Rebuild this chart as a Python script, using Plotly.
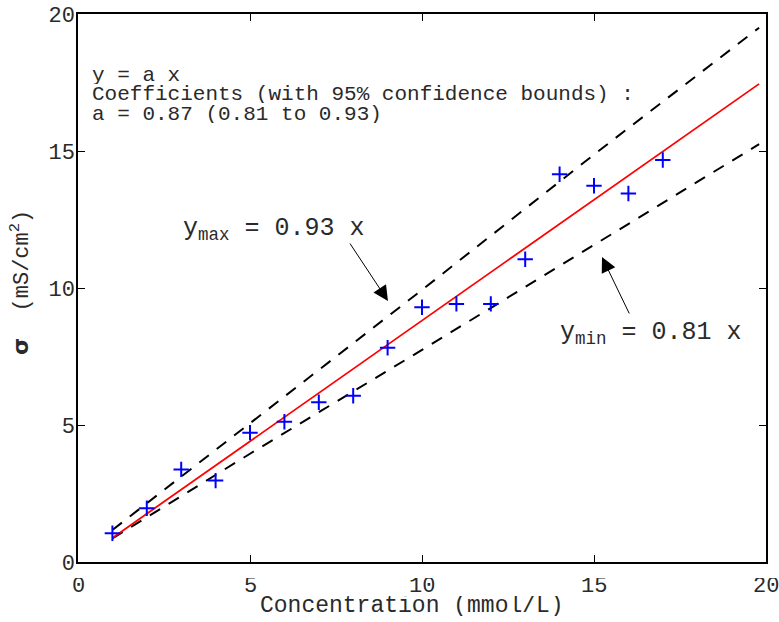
import plotly.graph_objects as go

# ---- data ----
conc = [1, 2, 3, 4, 5, 6, 7, 8, 9, 10, 11, 12, 13, 14, 15, 16, 17]
sigma = [1.05, 1.96, 3.38, 2.97, 4.72, 5.12, 5.83, 6.07, 7.82, 9.30,
         9.42, 9.42, 11.05, 14.15, 13.73, 13.45, 14.67]

fit_x = [1, 19.8]
fit_y = [0.88, 17.45]

bound_x = [1, 5, 10, 15, 19.8]
upper_y = [1.17, 5.05, 9.93, 14.87, 19.5]
lower_y = [0.86, 3.95, 7.74, 11.57, 15.25]

x_ticks = [0, 5, 10, 15, 20]
x_ticklabels = ["0", "5", "10", "15", "20"]
y_ticks = [0, 5, 10, 15, 20]
y_ticklabels = ["0", "5", "10", "15", "20"]

# ---- layout helpers (pixel -> paper) ----
L, R, T, B = 78, 766, 14, 562
W, H = R - L, B - T
def px(x):
    return (x - L) / W
def py(y):
    return (B - y) / H

MONO = "Liberation Mono, Courier New, monospace"
TXT = "#2a2a2a"

fig = go.Figure()
fig.add_trace(go.Scatter(x=bound_x, y=upper_y, mode="lines",
                         line=dict(color="black", width=2, dash="12px,10px"),
                         showlegend=False, hoverinfo="skip"))
fig.add_trace(go.Scatter(x=bound_x, y=lower_y, mode="lines",
                         line=dict(color="black", width=2, dash="12px,10px"),
                         showlegend=False, hoverinfo="skip"))
fig.add_trace(go.Scatter(x=fit_x, y=fit_y, mode="lines",
                         line=dict(color="red", width=1.8),
                         showlegend=False))
fig.add_trace(go.Scatter(x=conc, y=sigma, mode="markers",
                         marker=dict(symbol="cross-thin", size=11,
                                     line=dict(color="blue", width=2)),
                         showlegend=False))

axis_common = dict(showgrid=False, zeroline=False, showline=True,
                   linecolor="black", linewidth=1.5, mirror="ticks",
                   ticks="inside", ticklen=7, tickwidth=1, tickcolor="black",
                   automargin=False, ticklabeloverflow="allow",
                   tickfont=dict(family=MONO, size=22, color=TXT))

# x tick labels are drawn as annotations below (at the x tick values)
fig.update_xaxes(range=[0, 20], tickvals=x_ticks, showticklabels=False,
                 **axis_common)
fig.update_yaxes(range=[0, 20], tickvals=y_ticks, ticktext=y_ticklabels,
                 ticklabelstandoff=-3, **axis_common)

ann = []
# axis titles
ann.append(dict(text="Concentration (mmol/L)", xref="paper", yref="paper",
                x=px(412), y=py(606), xanchor="center", yanchor="middle",
                height=20, showarrow=False, borderpad=0,
                font=dict(family=MONO, size=23, color=TXT)))
ann.append(dict(text="<span style='font-family:DejaVu Sans;font-weight:bold'>σ</span>  (mS/cm<sup>2</sup>)",
                xref="paper", yref="paper", x=px(20), y=py(283),
                xanchor="center", yanchor="middle", textangle=-90,
                showarrow=False, font=dict(family=MONO, size=22, color=TXT)))
for v, lab in zip(x_ticks, x_ticklabels):
    ann.append(dict(text=lab, xref="x", yref="paper", x=v, y=py(586),
                    xanchor="center", yanchor="middle", height=17,
                    showarrow=False, borderpad=0,
                    font=dict(family=MONO, size=22, color=TXT)))
# fit description text
for txt, yc in [("y = a x", 75),
                ("Coefficients (with 95% confidence bounds) :", 94.5),
                ("a = 0.87 (0.81 to 0.93)", 114)]:
    ann.append(dict(text=txt, xref="paper", yref="paper", x=px(91), y=py(yc),
                    xanchor="left", yanchor="middle", height=18, borderpad=0,
                    showarrow=False,
                    font=dict(family=MONO, size=21, color=TXT)))
# bound labels
ann.append(dict(text="y<sub>max</sub> = 0.93 x", xref="paper", yref="paper",
                x=px(181), y=py(230), xanchor="left", yanchor="middle",
                showarrow=False, font=dict(family=MONO, size=25, color=TXT)))
ann.append(dict(text="y<sub>min</sub> = 0.81 x", xref="paper", yref="paper",
                x=px(558), y=py(333), xanchor="left", yanchor="middle",
                showarrow=False, font=dict(family=MONO, size=25, color=TXT)))
# arrows
ann.append(dict(text="", xref="paper", yref="paper", x=px(388), y=py(301),
                showarrow=True, axref="pixel", ayref="pixel", ax=-39, ay=-59,
                arrowhead=2, arrowsize=3, arrowwidth=1, arrowcolor="black"))
ann.append(dict(text="", xref="paper", yref="paper", x=px(602), y=py(257),
                showarrow=True, axref="pixel", ayref="pixel", ax=28, ay=58,
                arrowhead=2, arrowsize=3, arrowwidth=1, arrowcolor="black"))

fig.update_layout(width=779, height=622, autosize=False,
                  margin=dict(l=L, r=779 - R, t=T, b=622 - B),
                  paper_bgcolor="white", plot_bgcolor="white",
                  hovermode=False, annotations=ann)

fig.write_html("out.html",
               config={"responsive": False, "displayModeBar": False},
               post_script="document.body.style.margin='0';document.body.style.padding='0';"
                           "document.documentElement.style.overflow='hidden';")
